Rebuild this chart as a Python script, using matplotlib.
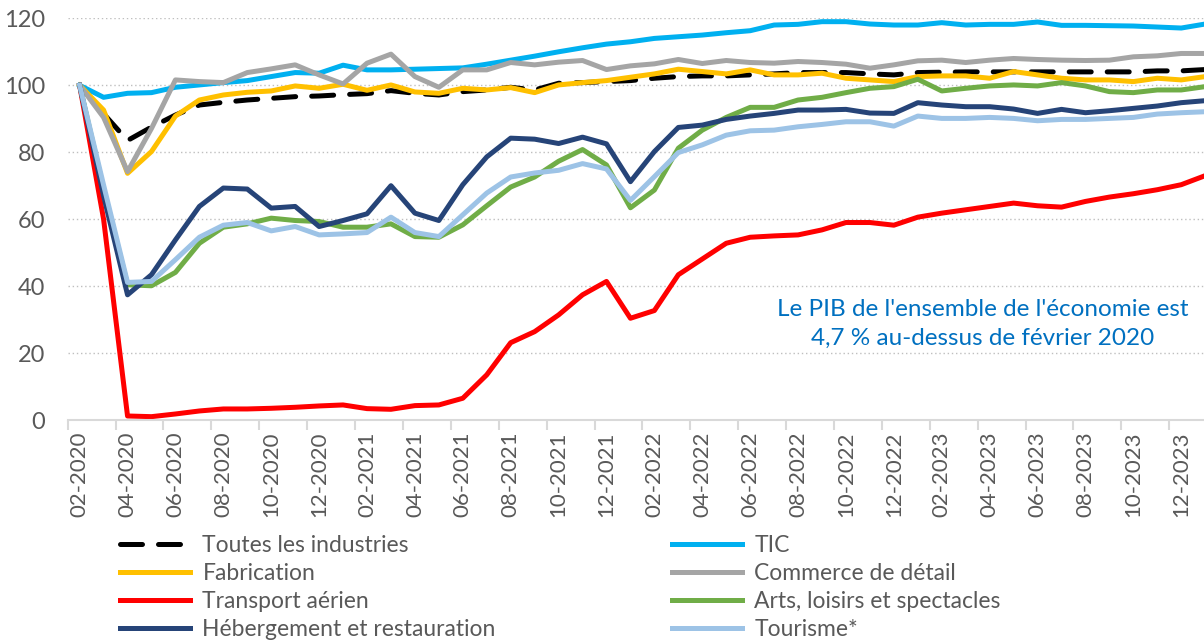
import pandas as pd
import numpy as np
import matplotlib.pyplot as plt

plt.rcParams['font.family'] = ['Lato', 'DejaVu Sans']

# Mois de 02-2020 a 01-2024
mois = pd.date_range('2020-02-01', periods=48, freq='MS').strftime('%m-%Y').tolist()

toutes = [100, 91.5, 83.5, 87.5, 91.1, 94.1, 94.9, 95.6, 96.1, 96.6, 96.8, 97.2, 97.5, 98.4, 97.6, 97.1,
          98.1, 98.6, 99.4, 98.6, 100.6, 100.8, 101.1, 101.4, 102.1, 102.6, 102.8, 102.8, 103.1, 103.4, 103.8, 103.8,
          103.8, 103.4, 103.1, 103.8, 103.9, 104.0, 104.0, 104.0, 104.0, 104.0, 104.0, 104.0, 104.0, 104.3, 104.3, 104.7]
tic = [100, 96.4, 97.6, 97.8, 99.4, 100.1, 100.8, 101.4, 102.6, 103.8, 103.6, 106.0, 104.6, 104.6, 104.8, 105.0,
       105.2, 106.3, 107.5, 108.7, 110.0, 111.2, 112.3, 113.0, 114.0, 114.5, 115.0, 115.7, 116.3, 118.0, 118.2, 119.0,
       119.0, 118.3, 118.0, 118.0, 118.7, 118.0, 118.2, 118.2, 118.9, 117.9, 117.9, 117.8, 117.7, 117.4, 117.1, 118.3]
fabrication = [100, 92.6, 73.7, 80.2, 90.8, 95.6, 97.1, 97.9, 98.3, 99.8, 99.1, 100.3, 98.5, 100.1, 98.0, 97.6,
               99.1, 98.6, 99.3, 97.8, 100.1, 100.8, 101.4, 102.4, 103.4, 104.8, 104.1, 103.4, 104.6, 103.1, 103.1, 103.6,
               102.1, 101.6, 101.1, 102.6, 102.8, 102.8, 102.1, 104.1, 103.1, 102.1, 101.6, 101.6, 101.1, 102.1, 101.6, 102.6]
commerce = [100, 90.4, 74.2, 87.1, 101.6, 101.1, 100.8, 103.8, 104.9, 106.1, 103.1, 100.4, 106.6, 109.3, 102.6, 99.4,
            104.6, 104.6, 106.8, 106.1, 106.9, 107.4, 104.7, 105.8, 106.4, 107.7, 106.5, 107.4, 106.8, 106.6, 107.1, 106.8,
            106.3, 105.1, 106.1, 107.3, 107.5, 106.8, 107.5, 108.0, 107.7, 107.5, 107.4, 107.5, 108.5, 108.8, 109.5, 109.5]
transport = [100, 60.0, 1.2, 1.0, 1.8, 2.7, 3.3, 3.3, 3.5, 3.8, 4.2, 4.5, 3.4, 3.2, 4.3, 4.5,
             6.5, 13.5, 23.1, 26.4, 31.4, 37.4, 41.4, 30.4, 32.7, 43.4, 48.1, 52.8, 54.6, 55.0, 55.3, 56.8,
             59.0, 59.0, 58.2, 60.6, 61.8, 62.8, 63.8, 64.8, 64.0, 63.6, 65.3, 66.6, 67.6, 68.8, 70.3, 73.0]
arts = [100, 69.0, 40.4, 40.1, 44.1, 52.8, 57.6, 58.6, 60.3, 59.6, 59.3, 57.6, 57.6, 58.6, 54.8, 54.6,
        58.3, 64.0, 69.6, 72.6, 77.3, 80.8, 76.2, 63.4, 68.7, 81.2, 86.6, 90.4, 93.4, 93.4, 95.6, 96.4,
        97.8, 99.1, 99.6, 101.8, 98.3, 99.1, 99.8, 100.1, 99.8, 100.8, 99.8, 98.1, 97.8, 98.6, 98.6, 99.6]
hebergement = [100, 67.0, 37.4, 43.4, 53.8, 63.8, 69.3, 69.0, 63.3, 63.8, 57.8, 59.6, 61.6, 70.0, 61.8, 59.6,
               70.3, 78.6, 84.2, 83.9, 82.6, 84.5, 82.5, 71.2, 80.2, 87.4, 88.1, 89.8, 90.8, 91.6, 92.6, 92.6,
               92.8, 91.7, 91.6, 94.8, 94.1, 93.6, 93.6, 92.9, 91.6, 92.8, 91.8, 92.4, 93.1, 93.8, 94.8, 95.4]
tourisme = [100, 70.2, 41.1, 41.4, 47.9, 54.6, 58.2, 59.0, 56.5, 57.8, 55.3, 55.6, 56.0, 60.6, 56.0, 54.8,
            61.3, 67.8, 72.6, 73.8, 74.6, 76.6, 75.0, 65.6, 72.7, 79.9, 82.2, 85.1, 86.4, 86.6, 87.6, 88.3,
            89.1, 89.1, 87.8, 90.8, 90.1, 90.1, 90.4, 90.1, 89.4, 89.8, 89.8, 90.1, 90.4, 91.4, 91.8, 92.1]

series = [
    ('Toutes les industries', toutes, 'black'),
    ('TIC', tic, '#00B0F0'),
    ('Fabrication', fabrication, '#FFC000'),
    ('Commerce de détail', commerce, '#A5A5A5'),
    ('Transport aérien', transport, '#FF0000'),
    ('Arts, loisirs et spectacles', arts, '#70AD47'),
    ('Hébergement et restauration', hebergement, '#264478'),
    ('Tourisme*', tourisme, '#9DC3E6'),
]

fig = plt.figure(figsize=(12.04, 6.43), dpi=100)
ax = fig.add_axes([0.0562, 0.3468, 1 - 0.0562, 0.6247])

x = np.arange(len(mois))
handles = []
for nom, valeurs, couleur in series:
    if nom == 'Toutes les industries':
        h, = ax.plot(x, valeurs, color=couleur, lw=3.6, linestyle=(0, (4.4, 3.2)),
                     dash_capstyle='round', label=nom)
    else:
        h, = ax.plot(x, valeurs, color=couleur, lw=3.6, label=nom)
    handles.append(h)

ax.set_ylim(0, 120)
ax.set_xlim(-0.5, 46.95)
ax.set_yticks(range(0, 121, 20))
ax.yaxis.grid(True, color='#BFBFBF', linestyle=(0, (1, 2)), lw=1)
ax.set_axisbelow(True)
for s in ['top', 'right', 'left']:
    ax.spines[s].set_visible(False)
ax.spines['bottom'].set_color('#D9D9D9')
ax.spines['bottom'].set_linewidth(1.5)

ax.set_xticks(x[::2])
ax.set_xticklabels(mois[::2], rotation=90)
ax.set_xticks(np.arange(-0.5, 47, 2), minor=True)
ax.tick_params(axis='x', which='major', length=0, pad=8, labelsize=16, labelcolor='#595959')
ax.tick_params(axis='x', which='minor', length=7, width=1.5, color='#D9D9D9')
ax.tick_params(axis='y', length=0, pad=16, labelsize=17, labelcolor='#595959')

ax.text(37.7, 28.8, "Le PIB de l'ensemble de l'économie est\n4,7 % au-dessus de février 2020",
        ha='center', va='center', fontsize=17.5, color='#0070C0', linespacing=1.45)

gauche = [handles[i] for i in (0, 2, 4, 6)]
droite = [handles[i] for i in (1, 3, 5, 7)]
for hs, x0 in ((gauche, 120 / 1204), (droite, 672 / 1204)):
    fig.legend(handles=hs, labels=[h.get_label() for h in hs], loc='upper left',
               bbox_to_anchor=(x0, 1 - 535 / 643), frameon=False, fontsize=16.5,
               handlelength=3.05, handletextpad=0.55, labelspacing=0.3,
               borderpad=0, borderaxespad=0, labelcolor='#595959')

fig.savefig('out.png', dpi=100)
